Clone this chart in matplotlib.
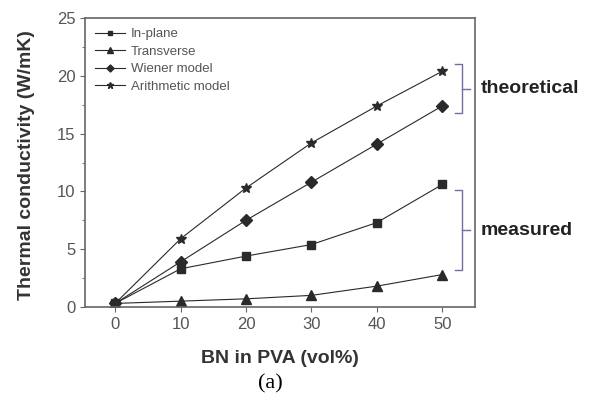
import matplotlib
matplotlib.use('Agg')
import matplotlib.pyplot as plt
from matplotlib.ticker import MultipleLocator

plt.rcParams['font.family'] = ['Liberation Sans', 'DejaVu Sans']

bn_vol = [0, 10, 20, 30, 40, 50]
in_plane = [0.3, 3.3, 4.4, 5.4, 7.3, 10.6]
transverse = [0.3, 0.5, 0.7, 1.0, 1.8, 2.8]
wiener = [0.3, 3.9, 7.5, 10.8, 14.1, 17.4]
arithmetic = [0.3, 5.9, 10.3, 14.2, 17.4, 20.4]

fig = plt.figure(figsize=[5.99, 3.95], dpi=100)
ax = fig.add_axes([0.142, 0.223, 0.651, 0.731])

line_kw = dict(color='#2a2a2a', lw=0.8)
ax.plot(bn_vol, in_plane, marker='s', ms=6, label='In-plane', **line_kw)
ax.plot(bn_vol, transverse, marker='^', ms=7, label='Transverse', **line_kw)
ax.plot(bn_vol, wiener, marker='D', ms=6, label='Wiener model', **line_kw)
ax.plot(bn_vol, arithmetic, marker='*', ms=7.5, label='Arithmetic model', **line_kw)

ax.set_xlim(-4.6, 55)
ax.set_ylim(0, 25)
ax.set_xticks(bn_vol)
ax.yaxis.set_major_locator(MultipleLocator(5))
ax.yaxis.set_minor_locator(MultipleLocator(2.5))
ax.tick_params(axis='both', direction='out', labelsize=12, colors='#666666',
               labelcolor='#555555', top=False, right=False)
ax.tick_params(axis='y', which='minor', direction='out', length=2.5, colors='#666666')
for s in ax.spines.values():
    s.set_color('#666666')
    s.set_linewidth(1.2)

ax.set_xlabel('BN in PVA (vol%)', fontsize=14, fontweight='bold', color='#333333')
ax.set_ylabel('Thermal conductivity (W/mK)', fontsize=14, fontweight='bold', color='#333333')
ax.xaxis.set_label_coords(0.5, -0.15)
ax.yaxis.set_label_coords(-0.128, 0.49)

leg = ax.legend(loc='upper left', frameon=False, fontsize=9.5, handlelength=2.3,
                labelspacing=0.4, borderaxespad=0.35, handletextpad=0.4,
                markerscale=0.6, borderpad=0.4)
for t in leg.get_texts():
    t.set_color('#555555')

# brackets for grouping
br = '#7070a0'
for lo, hi, txt in [(16.8, 21.0, 'theoretical'), (3.2, 10.1, 'measured')]:
    mid = (lo + hi) / 2
    ax.plot([52.0, 53.0, 53.0, 52.0], [hi, hi, lo, lo], color=br, lw=1, clip_on=False)
    ax.plot([53.0, 54.3], [mid, mid], color=br, lw=1, clip_on=False)
    ax.text(55.9, mid, txt, fontsize=14, fontweight='bold', color='#222222',
            va='center', ha='left', clip_on=False)

fig.text(0.451, 0.028, '(a)', fontsize=16, family='Liberation Serif', ha='center', va='center')

fig.savefig('out.png', dpi=100)
